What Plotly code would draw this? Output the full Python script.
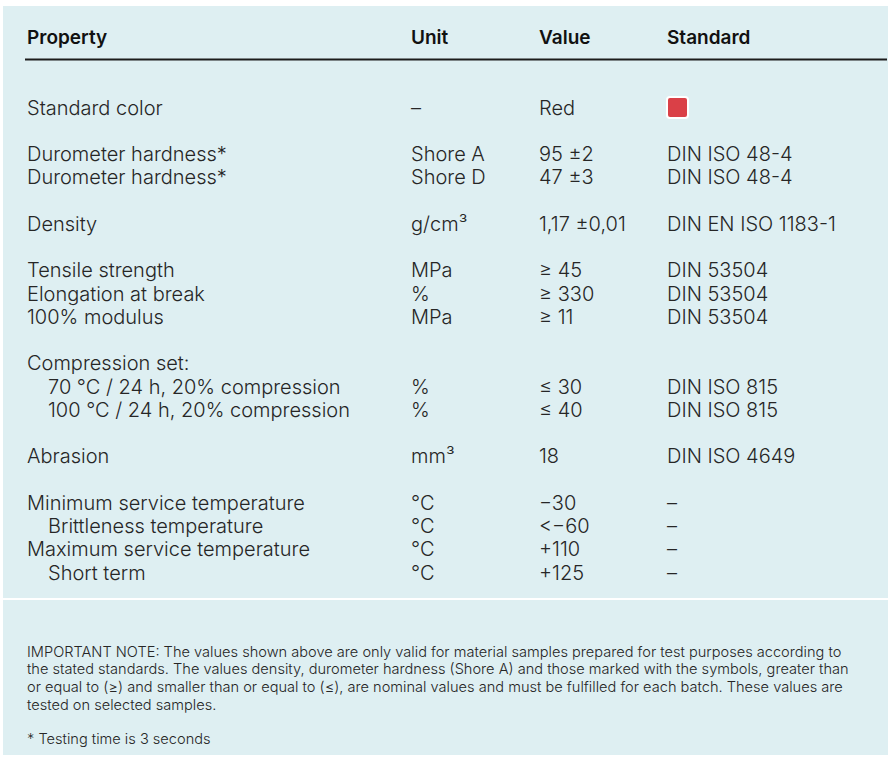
import plotly.graph_objects as go

# ---- data ----
headers = ["Property", "Unit", "Value", "Standard"]
properties = ["Standard color", "", "Durometer hardness*", "Durometer hardness*", "",
              "Density", "", "Tensile strength", "Elongation at break", "100% modulus", "",
              "Compression set:", "70 °C / 24 h, 20% compression", "100 °C / 24 h, 20% compression", "",
              "Abrasion", "", "Minimum service temperature", "Brittleness temperature",
              "Maximum service temperature", "Short term"]
levels = [0, 0, 0, 0, 0, 0, 0, 0, 0, 0, 0, 0, 1, 1, 0, 0, 0, 0, 1, 0, 1]
units = ["–", "", "Shore A", "Shore D", "", "g/cm³", "", "MPa", "%", "MPa", "",
         "", "%", "%", "", "mm³", "", "°C", "°C", "°C", "°C"]
values = ["Red", "", "95 ±2", "47 ±3", "", "1,17 ±0,01", "", "≥ 45", "≥ 330", "≥ 11", "",
          "", "≤ 30", "≤ 40", "", "18", "", "−30", "<−60", "+110", "+125"]
standards = ["", "", "DIN ISO 48-4", "DIN ISO 48-4", "", "DIN EN ISO 1183-1", "",
             "DIN 53504", "DIN 53504", "DIN 53504", "", "", "DIN ISO 815", "DIN ISO 815", "",
             "DIN ISO 4649", "", "–", "–", "–", "–"]
swatch_row = 0
swatch_color = "#DA4047"
note_lines = [
    "IMPORTANT NOTE: The values shown above are only valid for material samples prepared for test purposes according to",
    "the stated standards. The values density, durometer hardness (Shore A) and those marked with the symbols, greater than",
    "or equal to (≥) and smaller than or equal to (≤), are nominal values and must be fulfilled for each batch. These values are",
    "tested on selected samples.",
]
footnote = "* Testing time is 3 seconds"

# ---- layout constants ----
W, H = 888, 759
BG = "#DEEFF2"
col_x = [25, 409, 537, 665]
indent = 21
row0_y = 107.5
row_step = 23.25
header_y = 37
FONT = "Inter"
TXT = "#262626"


def fmt(s):
    return s.replace("<", "&lt;")


fig = go.Figure()
fig.add_trace(go.Scatter(x=[0, W], y=[0, H], mode="markers",
                         marker=dict(opacity=0), hoverinfo="skip", showlegend=False))

shapes = [
    dict(type="rect", x0=3, x1=W, y0=6, y1=598, fillcolor=BG, line=dict(width=0), layer="below"),
    dict(type="rect", x0=3, x1=W, y0=600, y1=755, fillcolor=BG, line=dict(width=0), layer="below"),
    dict(type="line", x0=25, x1=887, y0=59.5, y1=59.5, line=dict(color="#1c1c1c", width=2)),
]

ann = []
for x, h in zip(col_x, headers):
    ann.append(dict(x=x, y=header_y, text=h, xanchor="left", yanchor="middle", showarrow=False,
                    font=dict(family=FONT, size=19, color="#111111", weight=600)))

for i in range(len(properties)):
    y = row0_y + row_step * i
    cells = [properties[i], units[i], values[i], standards[i]]
    for c, t in enumerate(cells):
        if not t:
            continue
        x = col_x[c] + (indent * levels[i] if c == 0 else 0)
        ann.append(dict(x=x, y=y, text=fmt(t), xanchor="left", yanchor="middle", showarrow=False,
                        font=dict(family=FONT, size=20, color=TXT, weight=300)))
    if i == swatch_row:
        x0, y0, s, r = col_x[3] + 2, y - 10.5, 21, 3
        path = (f"M{x0+r},{y0} L{x0+s-r},{y0} Q{x0+s},{y0} {x0+s},{y0+r} L{x0+s},{y0+s-r} "
                f"Q{x0+s},{y0+s} {x0+s-r},{y0+s} L{x0+r},{y0+s} Q{x0},{y0+s} {x0},{y0+s-r} "
                f"L{x0},{y0+r} Q{x0},{y0} {x0+r},{y0} Z")
        shapes.append(dict(type="path", path=path, fillcolor=swatch_color,
                           line=dict(color="white", width=2)))

note_y0, note_step = 651.5, 17.8
for k, line in enumerate(note_lines):
    ann.append(dict(x=25, y=note_y0 + note_step * k, text=fmt(line), xanchor="left", yanchor="middle",
                    showarrow=False, font=dict(family=FONT, size=14.6, color=TXT, weight=300)))
ann.append(dict(x=25, y=738.5, text=fmt(footnote), xanchor="left", yanchor="middle",
                showarrow=False, font=dict(family=FONT, size=14.6, color=TXT, weight=300)))

fig.update_layout(
    width=W, height=H, margin=dict(l=0, r=0, t=0, b=0),
    paper_bgcolor="white", plot_bgcolor="white",
    xaxis=dict(range=[0, W], visible=False, fixedrange=True),
    yaxis=dict(range=[H, 0], visible=False, fixedrange=True),
    shapes=shapes, annotations=ann,
)

fig.write_html("out.html", config={"displayModeBar": False},
               post_script="document.body.style.margin='0';")
